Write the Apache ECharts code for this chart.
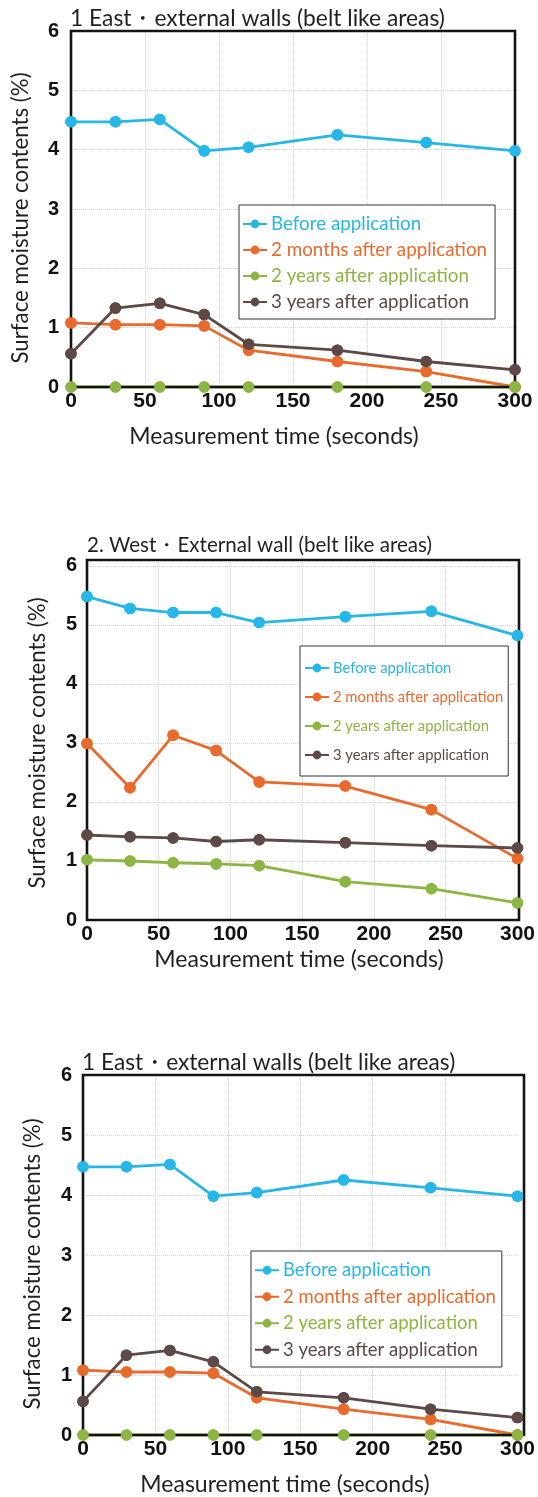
<!DOCTYPE html>
<html><head><meta charset="utf-8">
<script src="https://cdn.jsdelivr.net/npm/echarts@6/dist/echarts.min.js"></script>
<style>html,body{margin:0;padding:0;background:#fff}#c{width:538px;height:1497px}</style>
</head><body><div id="c"></div>
<script>
// ---- data ----
const times = [0, 30, 60, 90, 120, 180, 240, 300];
const seriesNames = ['Before application', '2 months after application', '2 years after application', '3 years after application'];
const eastBefore = [4.47, 4.47, 4.51, 3.98, 4.04, 4.25, 4.12, 3.98];
const east2Months = [1.08, 1.05, 1.05, 1.03, 0.62, 0.43, 0.26, 0.0];
const east2Years = [0, 0, 0, 0, 0, 0, 0, 0];
const east3Years = [0.56, 1.33, 1.41, 1.22, 0.72, 0.62, 0.43, 0.29];
const westBefore = [5.48, 5.28, 5.21, 5.21, 5.04, 5.14, 5.23, 4.82];
const west2Months = [2.99, 2.24, 3.13, 2.87, 2.34, 2.27, 1.87, 1.04];
const west2Years = [1.02, 1.00, 0.97, 0.95, 0.92, 0.65, 0.53, 0.29];
const west3Years = [1.44, 1.41, 1.39, 1.33, 1.36, 1.31, 1.26, 1.22];
const titles = ['1 East・external walls (belt like areas)', '2. West・External wall (belt like areas)', '1 East・external walls (belt like areas)'];
const xTitle = 'Measurement time (seconds)';
const yTitle = 'Surface moisture contents (%)';

const colors = ['#27b6e8', '#ea6a2d', '#8db543', '#5d4946'];
const TXT = '#231f20';
const FONT = 'Lato';

const panels = [
  {grid: {left: 71, top: 31, width: 444, height: 356}, ymax: 6, data: [eastBefore, east2Months, east2Years, east3Years],
   legend: {left: 239, top: 205, fs: 18.8, gap: 6, lh: 20, pad: [9, 8, 7, 3]}, yLabelMargin: 12, title: {x: 70, y: 19, fs: 22.8},
   xname: {x: 274, y: 437}, yname: {x: 21, y: 218}},
  {grid: {left: 87, top: 560, width: 432, height: 360}, ymax: 6.1, data: [westBefore, west2Months, west2Years, west3Years],
   legend: {left: 300, top: 646, fs: 14.8, gap: 11, lh: 18, pad: [13, 5, 12, 4]}, yLabelMargin: 10, title: {x: 87, y: 545, fs: 20.6},
   xname: {x: 299, y: 960}, yname: {x: 38, y: 743}},
  {grid: {left: 83, top: 1075, width: 441, height: 360}, ymax: 6, data: [eastBefore, east2Months, east2Years, east3Years],
   legend: {left: 251, top: 1251, fs: 18.5, gap: 6, lh: 20.5, pad: [9, 6, 7, 3]}, yLabelMargin: 11, title: {x: 82, y: 1063, fs: 22.7},
   xname: {x: 285, y: 1485}, yname: {x: 33, y: 1264}}
];

const option = {
  animation: false,
  backgroundColor: '#fff',
  grid: [], xAxis: [], yAxis: [], series: [], legend: [], graphic: []
};

const split = {show: true, showMinLine: false, showMaxLine: false, lineStyle: {color: '#d3d3d3', type: 'dotted', width: 1}};

panels.forEach((p, i) => {
  option.grid.push(Object.assign({show: false}, p.grid));
  option.xAxis.push({
    type: 'value', gridIndex: i, min: 0, max: 300, interval: 50,
    axisLine: {show: false}, axisTick: {show: false},
    axisLabel: {color: '#111', fontFamily: 'Liberation Sans', fontWeight: 'bold', fontSize: 21, margin: 4},
    splitLine: split
  });
  option.yAxis.push({
    type: 'value', gridIndex: i, min: 0, max: p.ymax, interval: 1,
    axisLine: {show: false}, axisTick: {show: false},
    axisLabel: {color: '#111', fontFamily: 'Liberation Sans', fontWeight: 'bold', fontSize: 20, margin: p.yLabelMargin,
      formatter: v => (Math.abs(v - Math.round(v)) < 1e-9 ? String(Math.round(v)) : '')},
    splitLine: split
  });
  p.data.forEach((arr, k) => {
    const pts = times.map((t, j) => [t, arr[j]]);
    option.series.push({
      type: 'line', name: seriesNames[k], xAxisIndex: i, yAxisIndex: i,
      data: pts,
      symbol: 'circle', symbolSize: 11.5, clip: false, z: 3,
      itemStyle: {color: colors[k]}, lineStyle: {color: colors[k], width: 2.8},
      emphasis: {disabled: true}
    });
  });
  // markers drawn above the frame
  p.data.forEach((arr, k) => {
    option.series.push({
      type: 'scatter', xAxisIndex: i, yAxisIndex: i, silent: true,
      data: times.map((t, j) => [t, arr[j]]),
      symbol: 'circle', symbolSize: 11.5, clip: false, z: 5,
      itemStyle: {color: colors[k], opacity: 1}, emphasis: {disabled: true}
    });
  });
  const L = p.legend;
  option.legend.push({
    orient: 'vertical', left: L.left, top: L.top, z: 6,
    data: seriesNames.map((n, k) => ({name: n, textStyle: {color: colors[k]}})),
    backgroundColor: '#fff', borderColor: '#333', borderWidth: 1, padding: L.pad,
    itemGap: L.gap, itemWidth: 24, itemHeight: 11,
    textStyle: {fontFamily: FONT, fontSize: L.fs, lineHeight: L.lh, padding: [0, 0, 0, -1]},
    selectedMode: false
  });
  // plot frame
  option.graphic.push({type: 'rect', z: 4, silent: true,
    shape: {x: p.grid.left, y: p.grid.top, width: p.grid.width, height: p.grid.height},
    style: {fill: 'none', stroke: '#141414', lineWidth: 2.6}});
  option.graphic.push({type: 'text', x: p.title.x, y: p.title.y,
    style: {text: titles[i], fontFamily: FONT, fontSize: p.title.fs, fill: TXT, align: 'left', verticalAlign: 'middle'}});
  option.graphic.push({type: 'text', x: p.xname.x, y: p.xname.y,
    style: {text: xTitle, fontFamily: FONT, fontSize: 23, fill: TXT, align: 'center', verticalAlign: 'middle'}});
  option.graphic.push({type: 'text', x: p.yname.x, y: p.yname.y, rotation: Math.PI / 2,
    style: {text: yTitle, fontFamily: FONT, fontSize: 22.3, fill: TXT, align: 'center', verticalAlign: 'middle'}});
});

const chart = echarts.init(document.getElementById('c'), null, {renderer: 'canvas'});
chart.setOption(option);
</script></body></html>
